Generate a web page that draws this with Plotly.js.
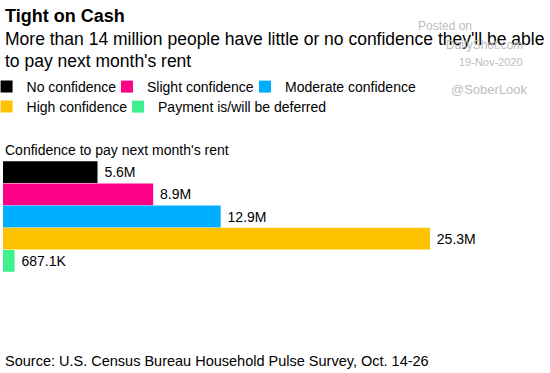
<!DOCTYPE html>
<html>
<head>
<meta charset="utf-8">
<script src="https://cdn.plot.ly/plotly-3.0.1.min.js"></script>
<style>
html,body{margin:0;padding:0;background:#fff;}
#chart{width:550px;height:373px;}
</style>
</head>
<body>
<div id="chart"></div>
<script>
const categories = ["No confidence", "Slight confidence", "Moderate confidence", "High confidence", "Payment is/will be deferred"];
const valuesMillions = [5.6, 8.9, 12.9, 25.3, 0.6871];
const valueLabels = ["5.6M", "8.9M", "12.9M", "25.3M", "687.1K"];
const colors = ["#000000", "#ff0088", "#00aeff", "#fcc200", "#3ef18e"];

const FONT = "Liberation Sans, Arial, Helvetica, sans-serif";
const legendIds = ["legend", "legend2", "legend3", "legend4", "legend5"];

const traces = categories.map((c, i) => ({
  type: "bar",
  orientation: "h",
  name: c,
  legend: legendIds[i],
  y: [c],
  x: [valuesMillions[i]],
  text: [valueLabels[i]],
  texttemplate: " %{text}",
  textposition: "outside",
  cliponaxis: false,
  textfont: {family: FONT, size: 14, color: "#000"},
  marker: {color: colors[i], line: {width: 0}},
  hoverinfo: "skip"
}));

// legend placement (paper coords) for the two legend rows
const legendPos = [
  {x: -0.0304, y: 1.6667},
  {x: 0.1926, y: 1.6667},
  {x: 0.4481, y: 1.6667},
  {x: -0.0304, y: 1.4865},
  {x: 0.2130, y: 1.4865}
];

const gray = "#bdbdbd";
const layout = {
  width: 550,
  height: 373,
  paper_bgcolor: "#fff",
  plot_bgcolor: "#fff",
  font: {family: FONT, color: "#000"},
  margin: {l: 3, r: 7, t: 161, b: 101, autoexpand: false},
  barmode: "overlay",
  bargap: 0.02,
  showlegend: true,
  xaxis: {
    range: [0, 32],
    showgrid: false, zeroline: false, showticklabels: false, showline: false, ticks: ""
  },
  yaxis: {
    type: "category",
    categoryorder: "array",
    categoryarray: categories,
    range: [4.5, -0.5],
    showgrid: false, zeroline: false, showticklabels: false, showline: false, ticks: ""
  }
};
legendIds.forEach((id, i) => {
  layout[id] = {
    orientation: "h",
    x: legendPos[i].x, xanchor: "left",
    y: legendPos[i].y, yanchor: "middle",
    font: {family: FONT, size: 14, color: "#000"},
    itemwidth: 30,
    bgcolor: "rgba(0,0,0,0)",
    borderwidth: 0
  };
});

function ann(text, x, y, size, opts) {
  return Object.assign({
    text: text, xref: "paper", yref: "paper", x: 0, y: 1,
    xanchor: "left", yanchor: "middle", showarrow: false,
    xshift: x - 3, yshift: 161 - y,
    font: {family: FONT, size: size, color: "#000"}, align: "left"
  }, opts || {});
}
layout.annotations = [
  ann("<b>Tight on Cash</b>", 3, 16, 18),
  ann("More than 14 million people have little or no confidence they'll be able", 3, 39, 17.5),
  ann("to pay next month's rent", 3, 61, 17.5),
  ann("Confidence to pay next month's rent", 3, 150, 14),
  ann("Source: U.S. Census Bureau Household Pulse Survey, Oct. 14-26", 3, 361, 14.5),
  ann("Posted on", 416, 26, 12, {font: {family: FONT, size: 12, color: gray}}),
  ann("DailyShot.com", 444, 45, 12, {font: {family: FONT, size: 12, color: gray}}),
  ann("19-Nov-2020", 457, 62, 11, {font: {family: FONT, size: 11, color: gray}}),
  ann("@SoberLook", 449, 89, 13, {font: {family: FONT, size: 13, color: gray}})
];

Plotly.newPlot("chart", traces, layout, {staticPlot: true, displayModeBar: false});
</script>
</body>
</html>
